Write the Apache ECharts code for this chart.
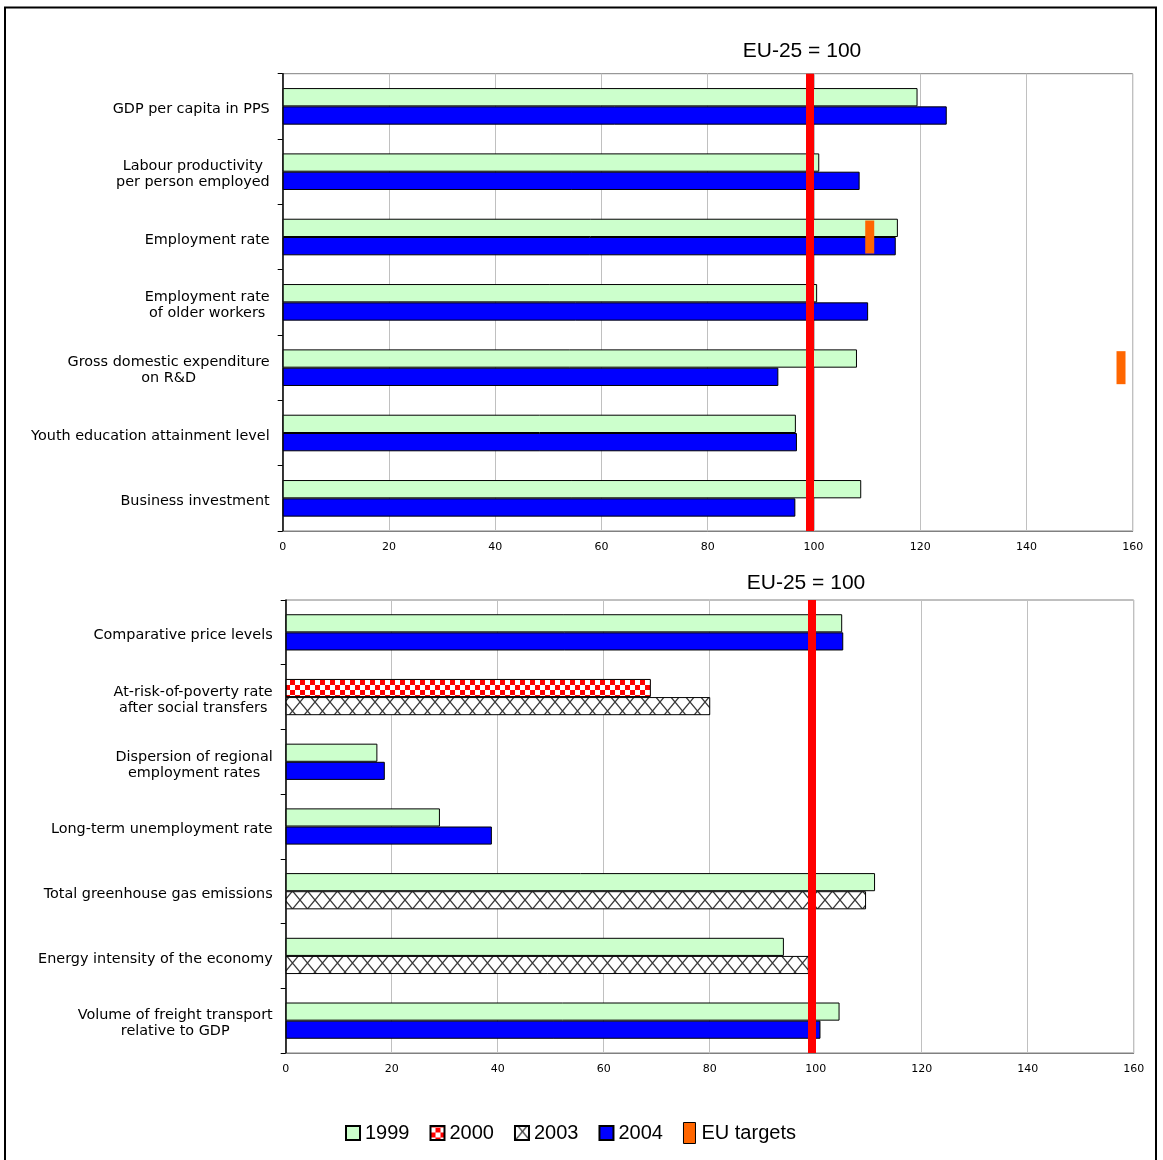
<!DOCTYPE html>
<html><head><meta charset="utf-8">
<script src="https://cdn.jsdelivr.net/npm/echarts@6/dist/echarts.min.js"></script>
<style>html,body{margin:0;padding:0;background:#fff}#c{width:1163px;height:1160px}</style>
</head><body><div id="c"></div>
<script>
// ---- data ----
const topCategories = [
  'GDP per capita in PPS',
  'Labour productivity\nper person employed',
  'Employment rate',
  'Employment rate\nof older workers',
  'Gross domestic expenditure\non R&D',
  'Youth education attainment level',
  'Business investment'
];
const top1999 = [119.5, 101.0, 115.8, 100.6, 108.1, 96.6, 108.9];
const top2004 = [125.0, 108.6, 115.4, 110.2, 93.3, 96.8, 96.5];
const topTargets = [null, null, 110.5, null, 157.8, null, null];

const botCategories = [
  'Comparative price levels',
  'At-risk-of-poverty rate\nafter social transfers',
  'Dispersion of regional\nemployment rates',
  'Long-term unemployment rate',
  'Total greenhouse gas emissions',
  'Energy intensity of the economy',
  'Volume of freight transport\nrelative to GDP'
];
const bot1999 = [105.0, null, 17.3, 29.1, 111.2, 94.0, 104.5];
const bot2000 = [null, 68.9, null, null, null, null, null];
const bot2003 = [null, 80.1, null, null, 109.5, 98.7, null];
const bot2004 = [105.2, null, 18.7, 38.9, null, null, 100.9];

const axisMin = 0, axisMax = 160, axisStep = 20;
const euReference = 99.2;
const titleText = 'EU-25 = 100';
const legendNames = ['1999', '2000', '2003', '2004', 'EU targets'];

// ---- patterns ----
function checker() {
  const c = document.createElement('canvas'); c.width = 10; c.height = 10;
  const g = c.getContext('2d');
  g.fillStyle = '#fff'; g.fillRect(0, 0, 10, 10);
  g.fillStyle = '#ff0000'; g.fillRect(0, 0, 5, 5); g.fillRect(5, 5, 5, 5);
  return c;
}
function hatch() {
  const w = 15, h = 18;
  const c = document.createElement('canvas'); c.width = w; c.height = h;
  const g = c.getContext('2d');
  g.fillStyle = '#fff'; g.fillRect(0, 0, w, h);
  g.strokeStyle = '#3a3a3a'; g.lineWidth = 1.3;
  g.beginPath(); g.moveTo(0, 0); g.lineTo(w, h); g.moveTo(w, 0); g.lineTo(0, h); g.stroke();
  return c;
}
const checkerFill = { image: checker(), repeat: 'repeat' };
const hatchFill = { image: hatch(), repeat: 'repeat' };

const labelFont = 'DejaVu Sans';
const labelSize = 14.4;
function catAxis(gridIndex, cats) {
  return {
    type: 'category', gridIndex, data: cats, inverse: true,
    axisLine: { show: true, lineStyle: { color: '#000', width: 1.5 } },
    axisTick: { show: true, length: 5, lineStyle: { color: '#000' } },
    axisLabel: {
      interval: 0, margin: 13, color: '#000', fontFamily: labelFont, fontSize: labelSize, lineHeight: 16,
      padding: [6, 0, 0, 0],
      formatter: v => v.split('\n').map(l => '{c|' + l + '}').join('\n'),
      rich: { c: { align: 'center', fontFamily: labelFont, fontSize: labelSize, lineHeight: 16, color: '#000' } }
    },
    splitLine: { show: false }
  };
}
function valAxis(gridIndex) {
  return {
    type: 'value', gridIndex, min: axisMin, max: axisMax, interval: axisStep,
    axisLine: { show: true, lineStyle: { color: '#808080' } },
    axisTick: { show: false },
    axisLabel: { margin: 11, color: '#000', fontFamily: labelFont, fontSize: 11 },
    splitLine: { show: true, lineStyle: { color: '#c0c0c0', width: 1 } }
  };
}
const barCommon = { type: 'bar', barCategoryGap: '44%', barGap: '0%' };
const border = { borderColor: '#000', borderWidth: 1 };
const refLine = {
  silent: true, symbol: ['none', 'none'], label: { show: false },
  lineStyle: { color: '#ff0000', width: 8, type: 'solid' },
  data: [{ xAxis: euReference }]
};
const sq = 'path://M0,0H10V10H0Z';
const titleStyle = { fontFamily: 'Liberation Sans', fontSize: 21, fontWeight: 'normal', color: '#000' };

const option = {
  animation: false,
  backgroundColor: '#fff',
  title: [
    { text: titleText, left: 797, top: 36, textAlign: 'center', textStyle: titleStyle },
    { text: titleText, left: 801, top: 568, textAlign: 'center', textStyle: titleStyle }
  ],
  grid: [
    { left: 282.7, top: 73.7, width: 850, height: 457.3, show: true, borderColor: '#808080', borderWidth: 1, containLabel: false },
    { left: 285.7, top: 600, width: 848, height: 453, show: true, borderColor: '#808080', borderWidth: 1, containLabel: false }
  ],
  xAxis: [valAxis(0), valAxis(1)],
  yAxis: [catAxis(0, topCategories), catAxis(1, botCategories)],
  legend: {
    left: 340, top: 1117, itemWidth: 14, itemHeight: 21, itemGap: 20,
    symbolKeepAspect: true,
    textStyle: { fontFamily: 'Liberation Sans', fontSize: 20, color: '#000' },
    data: [
      { name: legendNames[0], icon: sq },
      { name: legendNames[1], icon: sq },
      { name: legendNames[2], icon: sq },
      { name: legendNames[3], icon: sq },
      { name: legendNames[4], icon: 'path://M0,0H12V21H0Z', itemStyle: { borderColor: '#000', borderWidth: 1 } }
    ]
  },
  graphic: [
    { type: 'rect', shape: { x: 5, y: 7.5, width: 1151, height: 1170 }, style: { fill: 'none', stroke: '#000', lineWidth: 2 }, silent: true, z: 100 }
  ],
  series: [
    Object.assign({}, barCommon, { name: legendNames[0], xAxisIndex: 0, yAxisIndex: 0, stack: 't1', data: top1999,
      itemStyle: Object.assign({ color: '#ccffcc' }, border), markLine: refLine }),
    Object.assign({}, barCommon, { name: legendNames[3], xAxisIndex: 0, yAxisIndex: 0, stack: 't2', data: top2004,
      itemStyle: Object.assign({ color: '#0000ff' }, border) }),
    { name: legendNames[4], type: 'scatter', xAxisIndex: 0, yAxisIndex: 0, symbol: 'rect', symbolSize: [9, 33],
      itemStyle: { color: '#ff6600', opacity: 1 }, z: 4,
      data: topTargets.map((v, i) => v == null ? null : [v, i]).filter(d => d) },
    Object.assign({}, barCommon, { name: legendNames[0], xAxisIndex: 1, yAxisIndex: 1, stack: 'b1', data: bot1999,
      itemStyle: Object.assign({ color: '#ccffcc' }, border), markLine: refLine }),
    Object.assign({}, barCommon, { name: legendNames[1], xAxisIndex: 1, yAxisIndex: 1, stack: 'b1', data: bot2000,
      itemStyle: Object.assign({ color: checkerFill }, border) }),
    Object.assign({}, barCommon, { name: legendNames[2], xAxisIndex: 1, yAxisIndex: 1, stack: 'b2', data: bot2003,
      itemStyle: Object.assign({ color: hatchFill }, border) }),
    Object.assign({}, barCommon, { name: legendNames[3], xAxisIndex: 1, yAxisIndex: 1, stack: 'b2', data: bot2004,
      itemStyle: Object.assign({ color: '#0000ff' }, border) })
  ]
};
const chart = echarts.init(document.getElementById('c'), null, { renderer: 'canvas' });
chart.setOption(option);
</script>
</body></html>
